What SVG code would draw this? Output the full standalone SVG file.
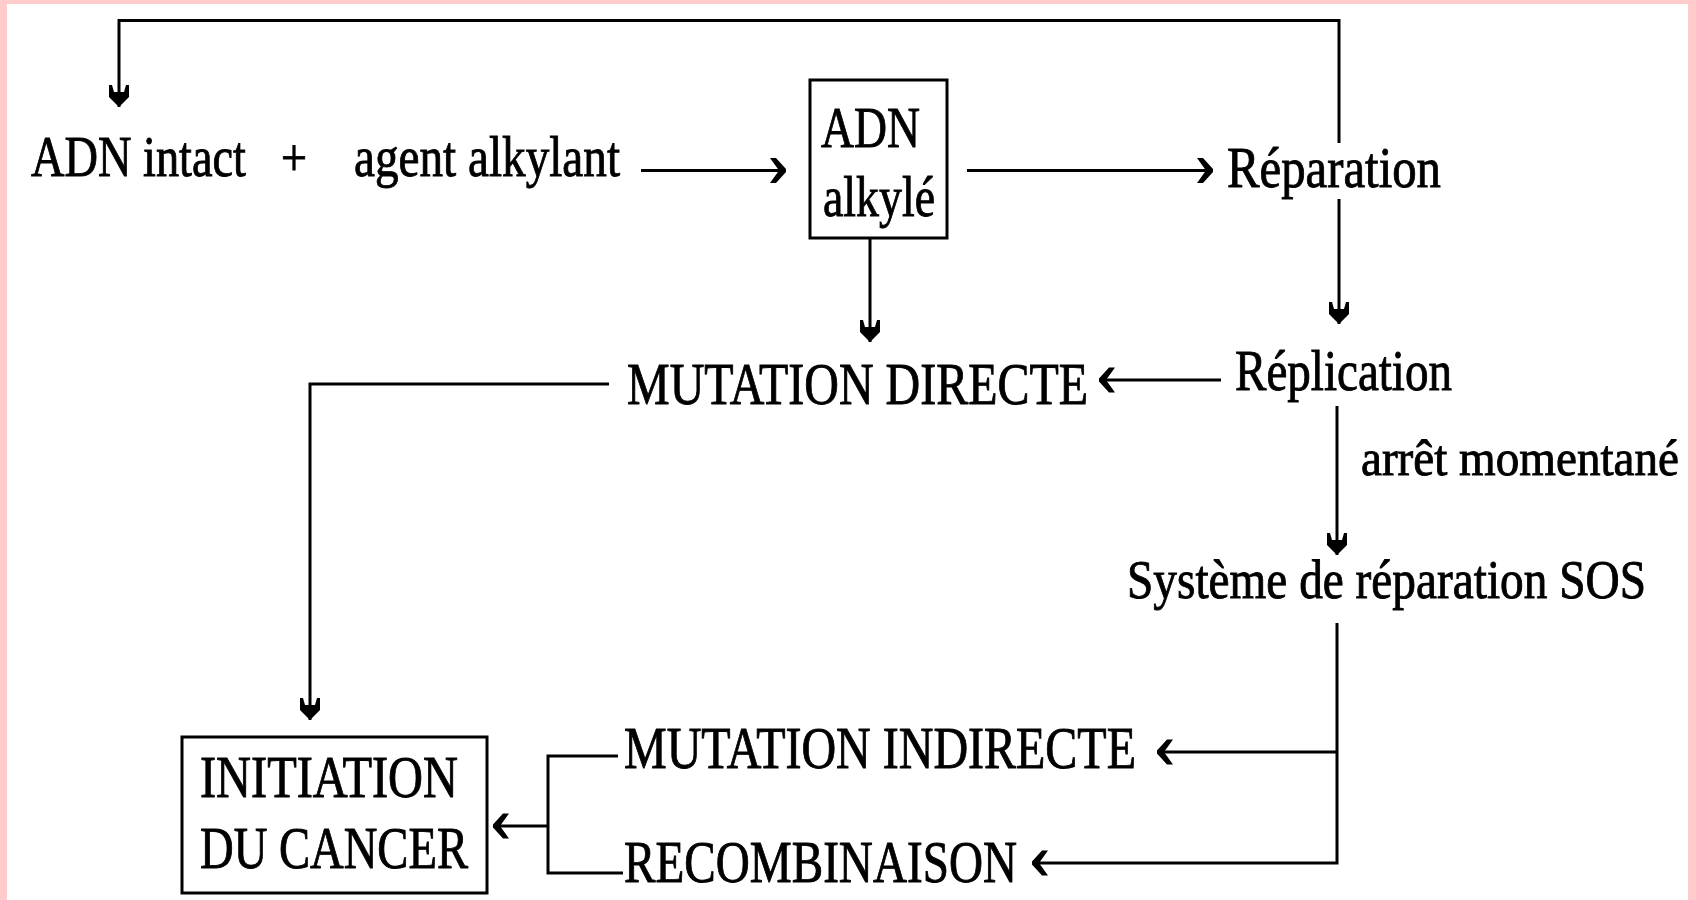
<svg xmlns="http://www.w3.org/2000/svg" width="1696" height="900" viewBox="0 0 1696 900">
<style>
text{font-family:"Liberation Serif","Times New Roman",serif;fill:#000;stroke:#000;stroke-width:0.9;}
.c{fill:none;stroke:#000;stroke-width:3;}
.box{fill:#fff;stroke:#000;stroke-width:3;}
.big{font-size:59px;}
.mid{font-size:57px;}
</style>
<defs>
<marker id="down" markerUnits="userSpaceOnUse" orient="auto" viewBox="-24 -12 26 24" refX="0" refY="0" markerWidth="26" markerHeight="24" overflow="visible">
<path d="M0,0 L-10,-10 L-22,-10 L-22,-7 L-15,-5 L-15,5 L-22,7 L-22,10 L-10,10 Z" fill="#000"/>
</marker>
<marker id="chev" markerUnits="userSpaceOnUse" orient="auto" viewBox="-18 -14 20 28" refX="0" refY="0" markerWidth="20" markerHeight="28" overflow="visible">
<path d="M0,-1.5 L-10,-12.5 L-16,-12.5 L-7,0 L-16,12.5 L-10,12.5 L0,1.5 Z" fill="#000"/>
</marker>
</defs>
<rect x="0" y="0" width="1696" height="900" fill="#FFCCCC"/>
<rect x="7" y="4" width="1681" height="896" fill="#FFFFFF"/>

<g id="connectors">
<path class="c" d="M1339,143 L1339,20.5 L119,20.5 L119,107" marker-end="url(#down)"/>
<path class="c" d="M1339,199 L1339,324" marker-end="url(#down)"/>
<path class="c" d="M641,170.5 L786,170.5" marker-end="url(#chev)"/>
<path class="c" d="M967,170.5 L1213,170.5" marker-end="url(#chev)"/>
<path class="c" d="M870,238 L870,342" marker-end="url(#down)"/>
<path class="c" d="M1221,380 L1099,380" marker-end="url(#chev)"/>
<path class="c" d="M609,384 L310,384 L310,720" marker-end="url(#down)"/>
<path class="c" d="M1337,406 L1337,555" marker-end="url(#down)"/>
<path class="c" d="M1337,623 L1337,863 L1032,863" marker-end="url(#chev)"/>
<path class="c" d="M1337,752 L1157,752" marker-end="url(#chev)"/>
<path class="c" d="M618,756 L548,756 L548,873 L623,873"/>
<path class="c" d="M548,826 L493,826" marker-end="url(#chev)"/>
</g>

<g id="adn-intact">
<text class="mid" x="31" y="176" textLength="215" lengthAdjust="spacingAndGlyphs">ADN intact</text>
</g>
<g id="plus">
<text x="281" y="175" font-size="52" stroke-width="0" textLength="26" lengthAdjust="spacingAndGlyphs">+</text>
</g>
<g id="agent-alkylant">
<text class="mid" x="354" y="176" textLength="266" lengthAdjust="spacingAndGlyphs">agent alkylant</text>
</g>
<g id="adn-alkyle">
<rect class="box" x="810" y="80" width="137" height="158"/>
<text class="mid" x="821" y="147" textLength="99" lengthAdjust="spacingAndGlyphs">ADN</text>
<text class="mid" x="823" y="216" textLength="112" lengthAdjust="spacingAndGlyphs">alkylé</text>
</g>
<g id="reparation">
<text class="mid" x="1227" y="187" textLength="214" lengthAdjust="spacingAndGlyphs">Réparation</text>
</g>
<g id="mutation-directe">
<text class="big" x="627" y="404" textLength="461" lengthAdjust="spacingAndGlyphs">MUTATION DIRECTE</text>
</g>
<g id="replication">
<text class="mid" x="1235" y="390" textLength="217" lengthAdjust="spacingAndGlyphs">Réplication</text>
</g>
<g id="arret">
<text x="1361" y="475" font-size="50" textLength="318" lengthAdjust="spacingAndGlyphs">arrêt momentané</text>
</g>
<g id="sos">
<text x="1127" y="598" font-size="54" textLength="519" lengthAdjust="spacingAndGlyphs">Système de réparation SOS</text>
</g>
<g id="mutation-indirecte">
<text class="big" x="624" y="768" textLength="512" lengthAdjust="spacingAndGlyphs">MUTATION INDIRECTE</text>
</g>
<g id="recombinaison">
<text class="big" x="624" y="882" textLength="393" lengthAdjust="spacingAndGlyphs">RECOMBINAISON</text>
</g>
<g id="initiation">
<rect class="box" x="182" y="737" width="305" height="156"/>
<text class="big" x="200" y="797" textLength="258" lengthAdjust="spacingAndGlyphs">INITIATION</text>
<text class="big" x="200" y="868" textLength="268" lengthAdjust="spacingAndGlyphs">DU CANCER</text>
</g>
</svg>
